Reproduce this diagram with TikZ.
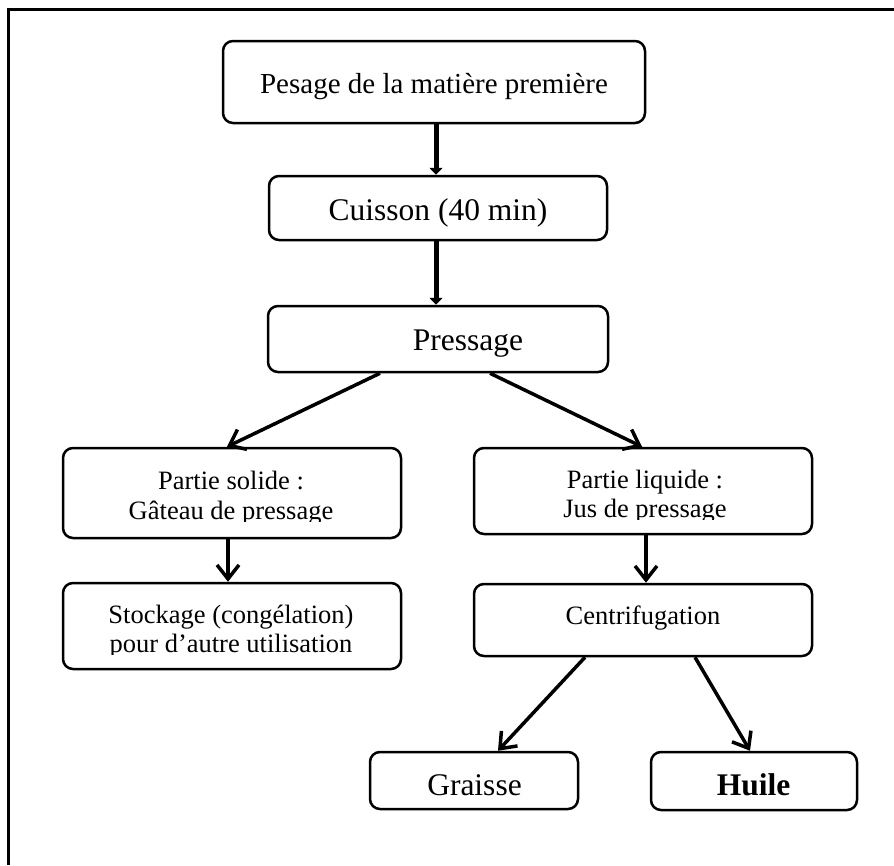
\documentclass[tikz,border=0pt]{standalone}
\usepackage{fontspec}
\setmainfont{Liberation Serif}
\usetikzlibrary{arrows.meta}
\begin{document}
\begin{tikzpicture}[x=1pt,y=-1pt,
  box/.style={draw, line width=2.5pt, rounded corners=10pt, inner sep=0pt},
  txt/.style={inner sep=0pt, anchor=base},
  big/.style={txt, font=\fontsize{31.5}{36}\selectfont},
  mid/.style={txt, font=\fontsize{29}{33}\selectfont},
  small/.style={txt, font=\fontsize{26.5}{30}\selectfont},
  topar/.style={line width=5pt, -{Triangle[length=7pt,width=13pt]}},
  ar/.style={line width=3.5pt, -{Straight Barb[length=14pt,width=22pt]}}
]
\useasboundingbox (0,0) rectangle (894,865);
\draw[line width=3pt] (8,865) -- (8,9) -- (894,9);

% boxes
\node[box, minimum width=422pt, minimum height=82pt] (pesage) at (434,82) {};
\node[mid] (pesageT) at (434,93) {Pesage de la matière première};

\node[box, minimum width=338pt, minimum height=64pt] (cuisson) at (438,208) {};
\node[big] (cuissonT) at (438,220) {Cuisson (40 min)};

\node[box, minimum width=340pt, minimum height=66pt] (pressage) at (438,339) {};
\node[big] (pressageT) at (468,350) {Pressage};

\node[box, minimum width=338pt, minimum height=90pt] (solide) at (232,493) {};
\begin{scope}
  \clip (63,448) rectangle (401,521);
  \node[small] (solideA) at (231,489) {Partie solide :};
  \node[small] (solideB) at (231,519) {Gâteau de pressage};
\end{scope}

\node[box, minimum width=338pt, minimum height=86pt] (liquide) at (643,491) {};
\begin{scope}
  \clip (474,448) rectangle (812,519);
  \node[small] (liquideA) at (645,488) {Partie liquide :};
  \node[small] (liquideB) at (645,517) {Jus de pressage};
\end{scope}

\node[box, minimum width=338pt, minimum height=86pt] (stockage) at (232,626) {};
\begin{scope}
  \clip (63,583) rectangle (401,654);
  \node[small] (stockageA) at (231,623) {Stockage (congélation)};
  \node[small] (stockageB) at (231,652) {pour d’autre utilisation};
\end{scope}

\node[box, minimum width=338pt, minimum height=72pt] (centri) at (643,620) {};
\node[small] (centriT) at (643,624) {Centrifugation};

\node[box, minimum width=208pt, minimum height=57pt] (graisse) at (474,780.5) {};
\node[big] (graisseT) at (474.5,795) {Graisse};

\node[box, minimum width=206pt, minimum height=58pt] (huile) at (754,781) {};
\node[big] (huileT) at (753.5,795) {\bfseries Huile};

% connectors
\draw[topar] ([xshift=2pt]pesage.south) -- ([xshift=-2pt]cuisson.north);
\draw[topar] ([xshift=-2pt]cuisson.south) -- ([xshift=-2pt]pressage.north);
\draw[ar] ([xshift=-58pt]pressage.south) -- ([xshift=-5pt]solide.north);
\draw[ar] ([xshift=52pt]pressage.south) -- ([xshift=-1pt]liquide.north);
\draw[ar] ([xshift=-4pt]solide.south) -- ([xshift=-4pt]stockage.north);
\draw[ar] ([xshift=3pt]liquide.south) -- ([xshift=3pt]centri.north);
\draw[ar] ([xshift=-58pt]centri.south) -- ([xshift=24pt]graisse.north);
\draw[ar] ([xshift=52pt]centri.south) -- ([xshift=-4pt]huile.north);
\end{tikzpicture}
\end{document}
